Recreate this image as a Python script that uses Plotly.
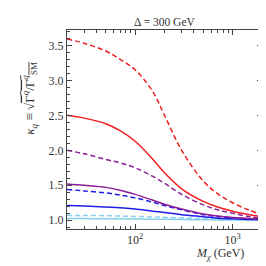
import plotly.graph_objects as go

M = [20, 30, 50, 70, 100, 150, 200, 300, 500, 700, 1000, 1500, 2000]

red_dash = [3.59, 3.53, 3.42, 3.30, 3.15, 2.85, 2.50, 2.00, 1.56, 1.38, 1.25, 1.14, 1.08]
red_solid = [2.50, 2.46, 2.38, 2.28, 2.13, 1.88, 1.68, 1.45, 1.27, 1.19, 1.13, 1.08, 1.05]
purple_dash = [2.00, 1.95, 1.87, 1.82, 1.75, 1.63, 1.53, 1.37, 1.22, 1.15, 1.10, 1.05, 1.03]
purple_solid = [1.52, 1.50, 1.47, 1.43, 1.37, 1.29, 1.23, 1.16, 1.09, 1.06, 1.04, 1.025, 1.02]
blue_dash = [1.44, 1.42, 1.39, 1.36, 1.32, 1.26, 1.21, 1.15, 1.08, 1.05, 1.035, 1.02, 1.015]
blue_solid = [1.21, 1.205, 1.19, 1.18, 1.16, 1.13, 1.11, 1.08, 1.05, 1.03, 1.02, 1.01, 1.01]
lblue_dash = [1.07, 1.068, 1.065, 1.06, 1.055, 1.048, 1.042, 1.034, 1.022, 1.016, 1.011, 1.007, 1.005]
lblue_solid = [1.025, 1.024, 1.022, 1.02, 1.018, 1.015, 1.013, 1.01, 1.007, 1.005, 1.004, 1.002, 1.001]

x_tick_vals = [100, 1000]
x_tick_text = ["10<sup>2</sup>", "10<sup>3</sup>"]
y_tick_vals = [1.0, 1.5, 2.0, 2.5, 3.0, 3.5]
y_tick_text = ["1.0", "1.5", "2.0", "2.5", "3.0", "3.5"]

RED = "rgb(240,30,30)"
PURPLE = "rgb(140,30,150)"
BLUE = "rgb(30,30,230)"
LBLUE = "rgb(135,206,235)"
DASH = "5px,3px"

series = [
    (lblue_solid, LBLUE, "solid"),
    (lblue_dash, LBLUE, DASH),
    (blue_solid, BLUE, "solid"),
    (blue_dash, BLUE, DASH),
    (purple_solid, PURPLE, "solid"),
    (purple_dash, PURPLE, DASH),
    (red_solid, RED, "solid"),
    (red_dash, RED, DASH),
]

fig = go.Figure()
for vals, col, dash in series:
    fig.add_trace(go.Scatter(x=M, y=vals, mode="lines",
                             line=dict(color=col, width=1.5, dash=dash, shape="spline"),
                             showlegend=False, hoverinfo="skip"))

FONT = "Liberation Serif"
TXT = "#333"
minor_x = [20, 30, 40, 50, 60, 70, 80, 90, 200, 300, 400, 500, 600, 700, 800, 900, 2000]

fig.update_layout(
    width=266, height=266,
    margin=dict(l=59, r=12, t=22, b=45),
    paper_bgcolor="white", plot_bgcolor="white",
    font=dict(family=FONT, size=12, color=TXT),
    xaxis=dict(type="log", range=[1.301, 3.301], tickvals=x_tick_vals, ticktext=x_tick_text,
               showgrid=False, zeroline=False, showline=True, linecolor="#444", linewidth=1,
               mirror="ticks", ticks="inside", ticklen=5, tickcolor="#444",
               tickfont=dict(family=FONT, size=12, color=TXT),
               minor=dict(tickvals=minor_x, ticks="inside", ticklen=3, tickcolor="#444")),
    yaxis=dict(range=[0.875, 3.72], tickvals=y_tick_vals, ticktext=y_tick_text,
               showgrid=False, zeroline=False, showline=True, linecolor="#444", linewidth=1,
               mirror="ticks", ticks="inside", ticklen=5, tickcolor="#444",
               tickfont=dict(family=FONT, size=12, color=TXT),
               minor=dict(dtick=0.1, ticks="inside", ticklen=3, tickcolor="#444")),
    annotations=[
        dict(text="Δ = 300 GeV", x=0.5, y=1.0, xref="paper", yref="paper",
             xanchor="center", yanchor="bottom", yshift=0, showarrow=False,
             font=dict(family=FONT, size=11.5, color=TXT)),
        dict(text="<i>M</i><sub><i>χ</i></sub> (GeV)", x=1.0, y=0.0, xref="paper", yref="paper",
             xanchor="right", yanchor="top", xshift=-16, yshift=-15, showarrow=False,
             font=dict(family=FONT, size=12, color=TXT)),
        dict(text="<i>κ</i><sub><i>q</i></sub> ≡ √<span style='text-decoration:overline'>Γ<sup><i>q</i></sup>/Γ<sup><i>q</i></sup><sub>SM</sub></span>",
             x=-0.195, y=0.66, xref="paper", yref="paper", textangle=-90,
             xanchor="center", yanchor="middle", showarrow=False,
             font=dict(family=FONT, size=13, color=TXT)),
    ],
)

fig.write_html("out.html")
